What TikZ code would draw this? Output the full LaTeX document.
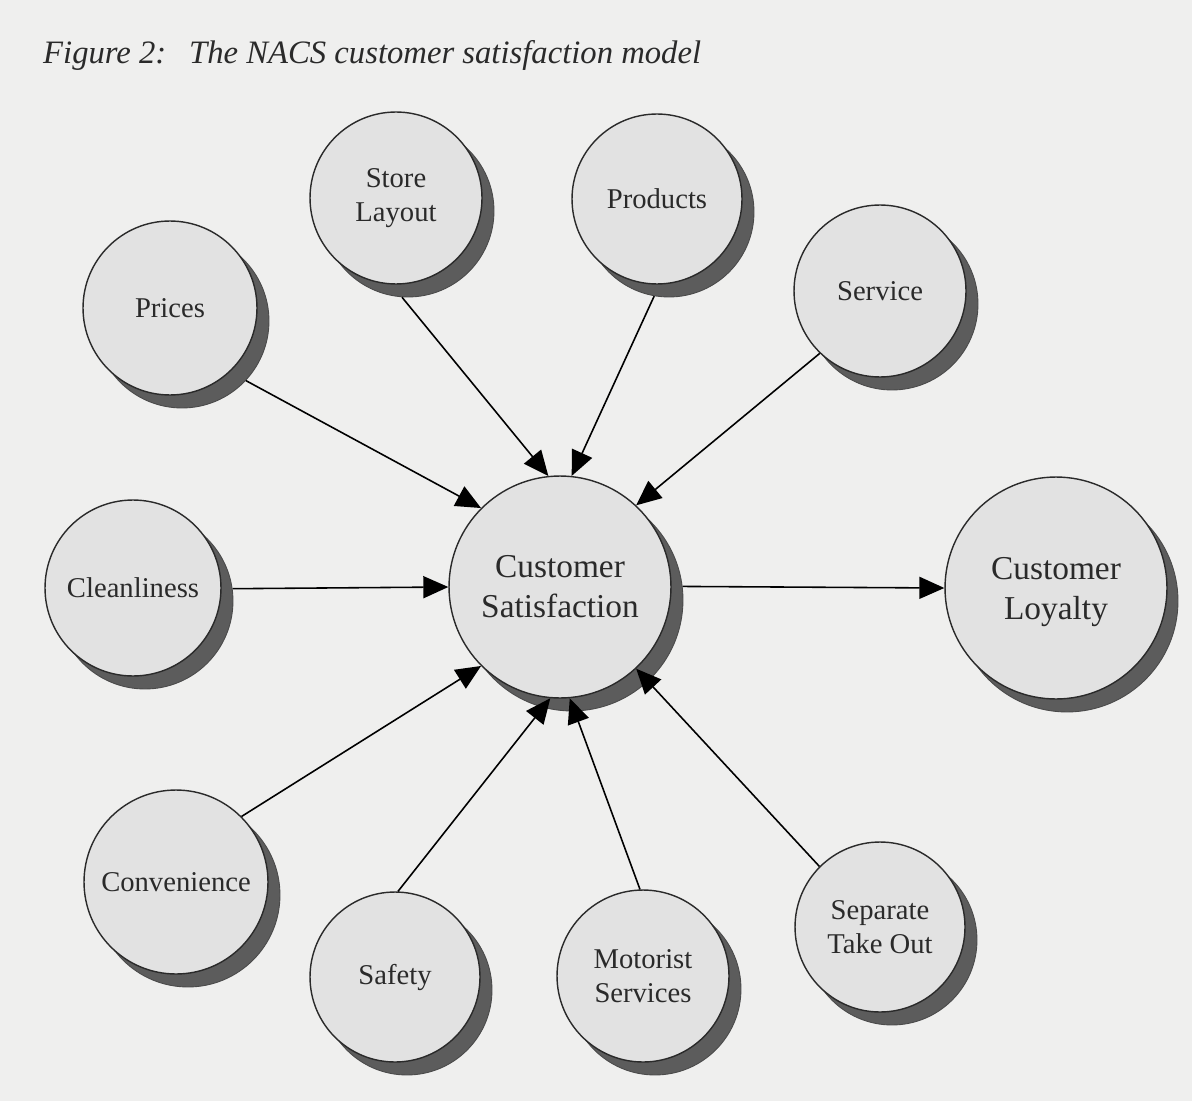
\documentclass[tikz,border=0pt]{standalone}
\usepackage{fontspec}
\setmainfont{Liberation Serif}
\usetikzlibrary{arrows.meta}
\definecolor{bg}{HTML}{EFEFEE}
\definecolor{discfill}{HTML}{E2E2E2}
\definecolor{shade}{HTML}{5C5C5C}
\definecolor{ink}{HTML}{2A2A2A}
\tikzset{
  disc/.style={circle, draw=ink, line width=0.8pt, fill=discfill, inner sep=0pt,
    minimum size=#1, align=center, text=ink,
    font=\fontsize{16.3}{19.6}\selectfont},
  bigdisc/.style={disc=#1, font=\fontsize{19}{22.8}\selectfont},
  shadowdisc/.style={circle, fill=shade, draw=shade!80!black, line width=0.5pt,
    inner sep=0pt, minimum size=#1},
  link/.style={draw=black, line width=0.9pt,
    -{Triangle[length=0.5cm,width=0.44cm]}}
}
\begin{document}
\begin{tikzpicture}[x=0.02cm, y=-0.02cm]
\fill[bg] (0,0) rectangle (1192,1101);
\useasboundingbox (0,0) rectangle (1192,1101);

\node[anchor=base west, text=ink, font=\itshape\fontsize{18.6}{22}\selectfont]
  (title) at (37,64) {Figure 2:\hspace{0.7em}The NACS customer satisfaction model};

% shadows
\node[shadowdisc=3.48cm] (prices-s) at (182,321) {};
\node[shadowdisc=3.44cm] (sl-s) at (408,211) {};
\node[shadowdisc=3.40cm] (prod-s) at (669,212) {};
\node[shadowdisc=3.44cm] (serv-s) at (892,304) {};
\node[shadowdisc=3.52cm] (clean-s) at (145,601) {};
\node[shadowdisc=4.44cm] (cs-s) at (572,600) {};
\node[shadowdisc=4.44cm] (cl-s) at (1067,601) {};
\node[shadowdisc=3.68cm] (conv-s) at (188,895) {};
\node[shadowdisc=3.40cm] (safety-s) at (407,990) {};
\node[shadowdisc=3.44cm] (motor-s) at (655,989) {};
\node[shadowdisc=3.40cm] (sep-s) at (892,940) {};

% discs
\node[disc=3.48cm] (prices) at (170,308) {Prices};
\node[disc=3.44cm] (sl) at (396,198) {Store\\Layout};
\node[disc=3.40cm] (prod) at (657,199) {Products};
\node[disc=3.44cm] (serv) at (880,291) {Service};
\node[disc=3.52cm] (clean) at (133,588) {Cleanliness};
\node[bigdisc=4.44cm] (cs) at (560,587) {Customer\\Satisfaction};
\node[bigdisc=4.44cm] (cl) at (1056,588) {\rule{0pt}{17pt}Customer\\Loyalty};
\node[disc=3.68cm] (conv) at (176,882) {Convenience};
\node[disc=3.40cm] (safety) at (395,977) {Safety};
\node[disc=3.44cm] (motor) at (643,976) {Motorist\\Services};
\node[disc=3.40cm] (sep) at (880,927) {Separate\\Take Out};

% connectors
\draw[link] (prices-s.-43) -- (cs.135);
\draw[link] (sl-s.-94) -- (cs.96);
\draw[link] (prod-s.-100) -- (cs.84);
\draw[link] (serv.226) -- (cs.47);
\draw[link] (clean-s.8) -- (cs.west);
\draw[link] (conv.45) -- (cs.225);
\draw[link] (safety.88) -- (cs.265);
\draw[link] (motor.92) -- (cs.275);
\draw[link] (sep.135) -- (cs.313);
\draw[link] (cs-s.7) -- (cl.west);
\end{tikzpicture}
\end{document}
